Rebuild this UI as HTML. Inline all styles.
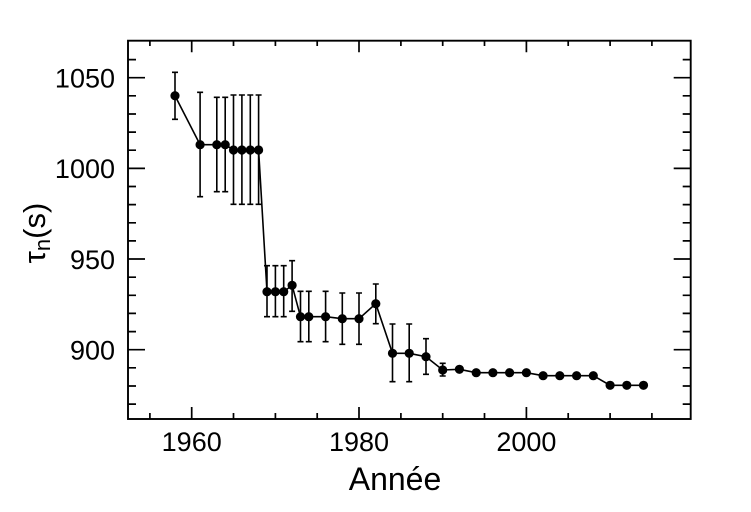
<!DOCTYPE html>
<html>
<head>
<meta charset="utf-8">
<style>
html,body{margin:0;padding:0;background:#fff}
svg{display:block}
text{font-family:"Liberation Sans",Arial,sans-serif;fill:#000}
</style>
</head>
<body>
<svg width="751" height="512" viewBox="0 0 751 512" xmlns="http://www.w3.org/2000/svg">
<rect width="751" height="512" fill="#fff"/>
<rect x="128" y="40.7" width="562.7" height="378.3" fill="none" stroke="#000" stroke-width="1.9"/>
<path stroke="#000" stroke-width="1.7" fill="none" d="
M128 77.7h17 M128 168.4h17 M128 259h17 M128 349.7h17
M690.7 77.7h-17 M690.7 168.4h-17 M690.7 259h-17 M690.7 349.7h-17
M128 59.6h8 M128 95.8h8 M128 114h8 M128 132.1h8 M128 150.2h8 M128 186.5h8 M128 204.6h8 M128 222.8h8 M128 240.9h8 M128 277.2h8 M128 295.3h8 M128 313.4h8 M128 331.6h8 M128 367.8h8 M128 386h8 M128 404.1h8
M690.7 59.6h-8 M690.7 95.8h-8 M690.7 114h-8 M690.7 132.1h-8 M690.7 150.2h-8 M690.7 186.5h-8 M690.7 204.6h-8 M690.7 222.8h-8 M690.7 240.9h-8 M690.7 277.2h-8 M690.7 295.3h-8 M690.7 313.4h-8 M690.7 331.6h-8 M690.7 367.8h-8 M690.7 386h-8 M690.7 404.1h-8
M191.7 419v-12 M359 419v-12 M526.4 419v-12
M191.7 40.7v11.5 M359 40.7v11.5 M526.4 40.7v11.5
M149.9 419v-6 M233.5 419v-6 M275.4 419v-6 M317.2 419v-6 M400.9 419v-6 M442.7 419v-6 M484.5 419v-6 M568.2 419v-6 M610.1 419v-6 M651.9 419v-6
M149.9 40.7v5.3 M233.5 40.7v5.3 M275.4 40.7v5.3 M317.2 40.7v5.3 M400.9 40.7v5.3 M442.7 40.7v5.3 M484.5 40.7v5.3 M568.2 40.7v5.3 M610.1 40.7v5.3 M651.9 40.7v5.3"/>
<g font-size="27" text-anchor="end">
<text x="115" y="87.5">1050</text>
<text x="115" y="178.2">1000</text>
<text x="115" y="268.8">950</text>
<text x="115" y="359.5">900</text>
</g>
<g font-size="27" text-anchor="middle">
<text x="191.7" y="451">1960</text>
<text x="359" y="451">1980</text>
<text x="526.4" y="451">2000</text>
</g>
<text x="395" y="490" font-size="32" text-anchor="middle">Année</text>
<g transform="translate(45,233) rotate(-90)">
<text x="0" y="0" font-size="31" text-anchor="middle">τ<tspan font-size="22" dy="5">n</tspan><tspan dy="-5">(s)</tspan></text>
</g>
<path stroke="#000" stroke-width="1.6" fill="none" d="
M175 72.3V119.3 M172 72.3h6 M172 119.3h6
M200.1 92.3V196.7 M197.1 92.3h6 M197.1 196.7h6
M216.8 97.3V191.7 M213.8 97.3h6 M213.8 191.7h6
M225.2 97.3V191.7 M222.2 97.3h6 M222.2 191.7h6
M233.5 95V204.3 M230.5 95h6 M230.5 204.3h6
M241.9 95V204.3 M238.9 95h6 M238.9 204.3h6
M250.3 95V204.3 M247.3 95h6 M247.3 204.3h6
M258.6 95V204.3 M255.6 95h6 M255.6 204.3h6
M267 265.7V316.7 M264 265.7h6 M264 316.7h6
M275.4 265.7V316.7 M272.4 265.7h6 M272.4 316.7h6
M283.7 265.7V316.7 M280.7 265.7h6 M280.7 316.7h6
M292.1 260.7V311.3 M289.1 260.7h6 M289.1 311.3h6
M300.5 291.3V341.7 M297.5 291.3h6 M297.5 341.7h6
M308.8 291.3V341.7 M305.8 291.3h6 M305.8 341.7h6
M325.6 291.3V341.7 M322.6 291.3h6 M322.6 341.7h6
M342.3 293V344.3 M339.3 293h6 M339.3 344.3h6
M359 293V344.3 M356 293h6 M356 344.3h6
M375.8 284V323.7 M372.8 284h6 M372.8 323.7h6
M392.5 324V381.7 M389.5 324h6 M389.5 381.7h6
M409.2 324V381.7 M406.2 324h6 M406.2 381.7h6
M426 338.7V374.3 M423 338.7h6 M423 374.3h6
M442.7 363.3V376 M439.7 363.3h6 M439.7 376h6"/>
<polyline fill="none" stroke="#000" stroke-width="1.6" points="175,95.7 200.1,144.7 216.8,144.7 225.2,144.7 233.5,150 241.9,150 250.3,150 258.6,150 267,291.7 275.4,291.7 283.7,291.7 292.1,285.3 300.5,316.7 308.8,316.7 325.6,316.7 342.3,318.7 359,318.7 375.8,303.7 392.5,353.3 409.2,353.3 426,356.7 442.7,370 459.4,369.3 476.2,372.7 492.9,372.7 509.6,372.7 526.4,372.7 543.1,375.7 559.8,375.7 576.6,375.7 593.3,375.7 610.1,385.3 626.8,385.3 643.5,385.3"/>
<g fill="#000">
<circle cx="175" cy="95.7" r="4.6"/>
<circle cx="200.1" cy="144.7" r="4.6"/>
<circle cx="216.8" cy="144.7" r="4.6"/>
<circle cx="225.2" cy="144.7" r="4.6"/>
<circle cx="233.5" cy="150" r="4.6"/>
<circle cx="241.9" cy="150" r="4.6"/>
<circle cx="250.3" cy="150" r="4.6"/>
<circle cx="258.6" cy="150" r="4.6"/>
<circle cx="267" cy="291.7" r="4.6"/>
<circle cx="275.4" cy="291.7" r="4.6"/>
<circle cx="283.7" cy="291.7" r="4.6"/>
<circle cx="292.1" cy="285.3" r="4.6"/>
<circle cx="300.5" cy="316.7" r="4.6"/>
<circle cx="308.8" cy="316.7" r="4.6"/>
<circle cx="325.6" cy="316.7" r="4.6"/>
<circle cx="342.3" cy="318.7" r="4.6"/>
<circle cx="359" cy="318.7" r="4.6"/>
<circle cx="375.8" cy="303.7" r="4.6"/>
<circle cx="392.5" cy="353.3" r="4.6"/>
<circle cx="409.2" cy="353.3" r="4.6"/>
<circle cx="426" cy="356.7" r="4.6"/>
<circle cx="442.7" cy="370" r="4.6"/>
<circle cx="459.4" cy="369.3" r="4.6"/>
<circle cx="476.2" cy="372.7" r="4.6"/>
<circle cx="492.9" cy="372.7" r="4.6"/>
<circle cx="509.6" cy="372.7" r="4.6"/>
<circle cx="526.4" cy="372.7" r="4.6"/>
<circle cx="543.1" cy="375.7" r="4.6"/>
<circle cx="559.8" cy="375.7" r="4.6"/>
<circle cx="576.6" cy="375.7" r="4.6"/>
<circle cx="593.3" cy="375.7" r="4.6"/>
<circle cx="610.1" cy="385.3" r="4.6"/>
<circle cx="626.8" cy="385.3" r="4.6"/>
<circle cx="643.5" cy="385.3" r="4.6"/>
</g>
</svg>
</body>
</html>
